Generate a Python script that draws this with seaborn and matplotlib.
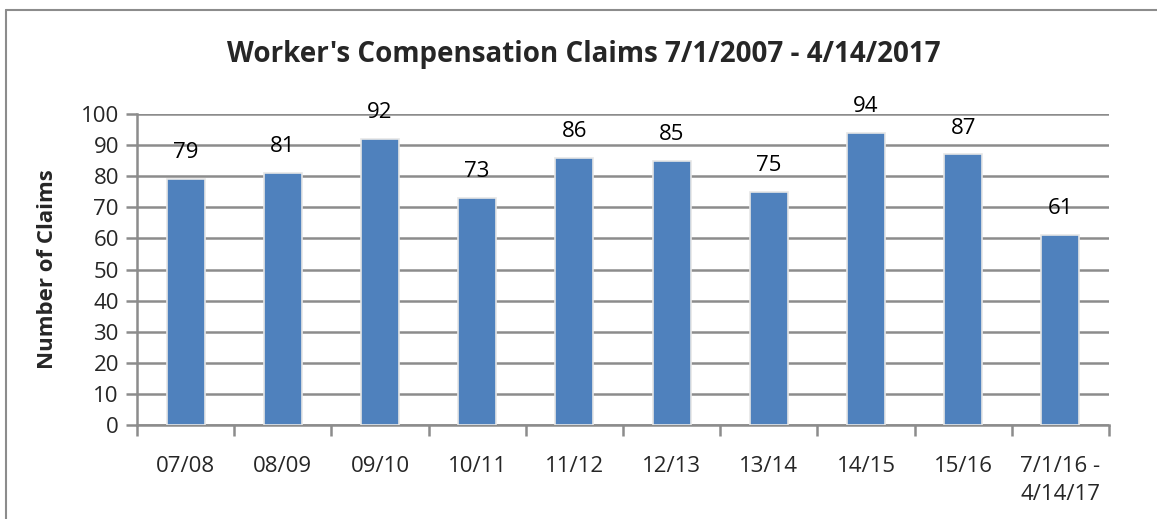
import matplotlib
matplotlib.use("Agg")
import matplotlib.pyplot as plt
from matplotlib.lines import Line2D
from matplotlib.ticker import MultipleLocator, FixedLocator
import seaborn as sns
import pandas as pd

# Fiscal-year periods and claim counts
periods = ["07/08", "08/09", "09/10", "10/11", "11/12", "12/13",
           "13/14", "14/15", "15/16", "7/1/16 -\n4/14/17"]
claims = [79, 81, 92, 73, 86, 85, 75, 94, 87, 61]

df = pd.DataFrame({"period": periods, "claims": claims})

sns.set_theme(style="white")
plt.rcParams["font.family"] = ["Open Sans", "DejaVu Sans"]

fig = plt.figure(figsize=(11.57, 5.19), dpi=100)
ax = fig.add_axes([0.1184, 0.1811, 0.8401, 0.5992])

sns.barplot(data=df, x="period", y="claims", color="#4F81BD",
            width=0.39, saturation=1, edgecolor="#E6E6E6", linewidth=1.2,
            ax=ax, zorder=3)

grid_col = "#8C8C8C"
ax.set_ylim(0, 100)
ax.set_xlim(-0.5, len(periods) - 0.5)
ax.yaxis.set_major_locator(MultipleLocator(10))
ax.yaxis.grid(True, color=grid_col, linewidth=1.8, zorder=0)
ax.set_axisbelow(True)

for side in ("top", "right"):
    ax.spines[side].set_visible(False)
for side in ("left", "bottom"):
    ax.spines[side].set_color(grid_col)
    ax.spines[side].set_linewidth(1.8)

ax.tick_params(axis="y", which="major", direction="out", length=8, width=1.8,
               color=grid_col, labelsize=16, pad=5, left=True)
ax.set_xticks(range(len(periods)))
ax.set_xticklabels(periods, fontsize=16, linespacing=1.45,
                   ha="center", va="top", multialignment="left")
ax.tick_params(axis="x", which="major", length=0, pad=22)
ax.xaxis.set_minor_locator(FixedLocator([i - 0.5 for i in range(len(periods) + 1)]))
ax.tick_params(axis="x", which="minor", direction="out", length=8, width=1.8,
               color=grid_col, bottom=True)

ax.set_xlabel("")
ax.set_ylabel("Number of Claims", fontsize=16, fontweight="bold", labelpad=16)

for i, v in enumerate(claims):
    ax.annotate(str(v), (i, v), xytext=(0, 19), textcoords="offset points",
                ha="center", va="center", fontsize=16, color="black")

fig.text(0.505, 0.895, "Worker's Compensation Claims 7/1/2007 - 4/14/2017",
         ha="center", va="center", fontsize=20, fontweight="bold")

# Chart frame (left and top edges)
fig.add_artist(Line2D([6 / 1157, 6 / 1157], [0, 1 - 10 / 519],
                      transform=fig.transFigure, color="#8C8C8C", linewidth=1.5))
fig.add_artist(Line2D([6 / 1157, 1], [1 - 10 / 519, 1 - 10 / 519],
                      transform=fig.transFigure, color="#8C8C8C", linewidth=1.5))

fig.savefig("out.png", dpi=100, facecolor="white")
